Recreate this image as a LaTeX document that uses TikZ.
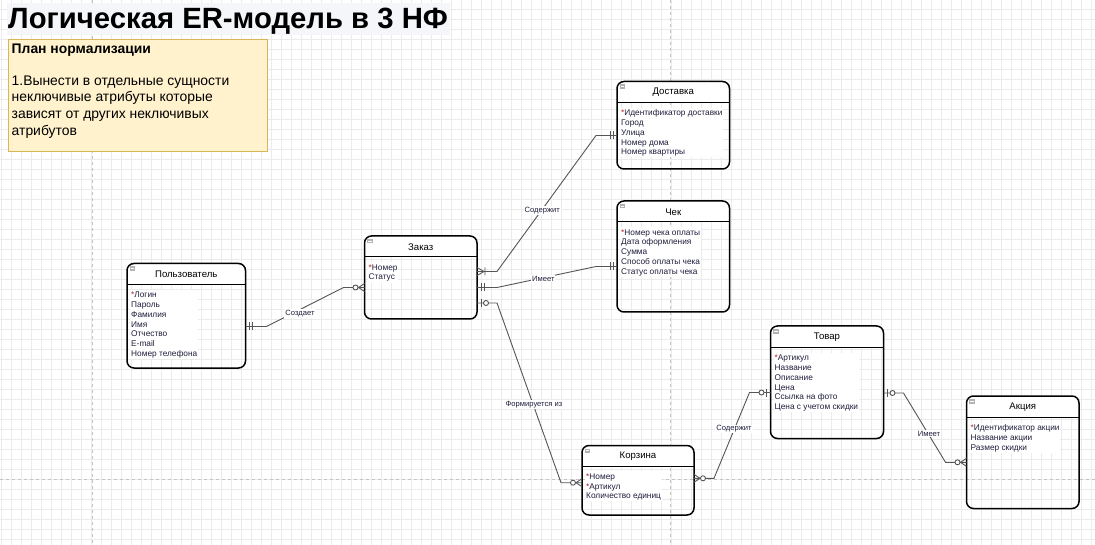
\documentclass[tikz,border=0pt]{standalone}
\usepackage{fontspec}
\setmainfont{Liberation Sans}
\definecolor{notefill}{HTML}{FFF2CC}
\definecolor{noteline}{HTML}{D6B656}
\definecolor{gridc}{HTML}{EBEBEB}
\definecolor{pagebr}{HTML}{C4C4C4}
\definecolor{txt}{HTML}{1E1E3C}
\definecolor{conn}{HTML}{555555}
\definecolor{titlebg}{HTML}{F4F6FA}
\definecolor{pk}{HTML}{B22222}
\newcommand\pkstar{\textcolor{pk}{*}}
\newcommand\ERentity[8]{%
  \fill[white] (#2,#6) [rounded corners=7] -- (#2,#3) -- (#4,#3) [sharp corners] -- (#4,#6) -- cycle;
  \node[entbox, minimum width={#4-#2}, minimum height={#5-#3}] (#1) at ({(#2+#4)/2},{(#3+#5)/2}) {};
  \draw[line width=1pt] (#1.west |- 0,#6) -- (#1.east |- 0,#6);
  \node[enttitle] (#1-t) at ({(#2+#4)/2},{(#3+#6)/2+0.5}) {#7};
  \node[entattr] (#1-a) at ({#2+3.2},{#6+5.2}) {\rule{0pt}{7pt}#8};
  \fill[gray!60] ({#2+2.5},{#3+3}) rectangle ({#2+8},{#3+7.5});
  \draw[white, line width=.6pt] ({#2+3.5},{#3+5.25}) -- ({#2+7},{#3+5.25});
}
\tikzset{
  entbox/.style={draw=black, line width=1.5pt, rounded corners=7pt, inner sep=0pt, outer sep=0pt},
  enttitle/.style={font=\fontsize{9.6}{11}\selectfont, text=black, inner sep=0pt},
  entattr/.style={anchor=north west, align=left, font=\fontsize{8.3}{9.8}\selectfont, text=txt, fill=white, inner sep=0.8pt},
  conn/.style={draw=conn, line width=0.9pt},
  rellabel/.style={font=\fontsize{7.6}{9}\selectfont, text=txt, fill=white, inner sep=1pt},
  mandone/.pic={\draw[conn] (-4,-4) -- (-4,4) (-7,-4) -- (-7,4);},
  onemany/.pic={\draw[conn] (0,-4) -- (-7,0) -- (0,4) (-8,-4) -- (-8,4);},
  zeromany/.pic={\draw[conn] (0,-4) -- (-6,0) -- (0,4); \draw[conn, fill=white] (-9,0) circle (2.5);},
  zeroone/.pic={\draw[conn] (-4,-4) -- (-4,4); \draw[conn, fill=white] (-9,0) circle (2.5);},
}
\begin{document}
\begin{tikzpicture}[x=1pt,y=-1pt]
\useasboundingbox (0,0) rectangle (1095,545);
\fill[white] (0,0) rectangle (1095,545);
% grid
\foreach \gx in {1,11,...,1095} \draw[gridc, line width=0.6pt] (\gx,0) -- (\gx,545);
\foreach \gy in {9,19,...,545} \draw[gridc, line width=0.6pt] (0,\gy) -- (1095,\gy);
% page breaks
\draw[pagebr, dashed, dash pattern=on 3pt off 3pt, line width=0.7pt] (92,0) -- (92,545);
\draw[pagebr, dashed, dash pattern=on 3pt off 3pt, line width=0.7pt] (670,0) -- (670,545);
\draw[pagebr, dashed, dash pattern=on 3pt off 3pt, line width=0.7pt] (0,479) -- (1095,479);
% title
\fill[titlebg] (7,3) rectangle (450,35);
\node[anchor=base west, inner sep=0pt, font=\fontsize{29.3}{31}\bfseries\selectfont] (title) at (8,29) {Логическая ER-модель в 3 НФ};
% note
\node[draw=noteline, fill=notefill, line width=0.8pt, minimum width=259pt, minimum height=112pt, inner sep=0pt, anchor=north west] (note) at (7.5,39.5) {};
\node[anchor=base west, inner sep=0pt, font=\fontsize{13.9}{16}\bfseries\selectfont] (noteh) at (11.5,54) {План нормализации};
\node[anchor=north west, inner sep=0pt, align=left, font=\fontsize{13.9}{16.7}\selectfont] (noteb) at (11.5,74) {\rule{0pt}{11pt}1.Вынести в отдельные сущности\\неключивые атрибуты которые\\зависят от других неключивых\\атрибутов};
% entities
\ERentity{polz}{127}{263.5}{245.5}{368}{284.5}{Пользователь}{\pkstar Логин\\Пароль\\Фамилия\\Имя\\Отчество\\E-mail\\Номер телефона}
\ERentity{zakaz}{364.5}{236}{477}{319}{257}{Заказ}{\pkstar Номер\\Статус}
\ERentity{dost}{617}{81.5}{729.5}{169}{102.5}{Доставка}{\pkstar Идентификатор доставки\\Город\\Улица\\Номер дома\\Номер квартиры}
\ERentity{chek}{617}{201}{729.5}{312}{222}{Чек}{\pkstar Номер чека оплаты\\Дата оформления\\Сумма\\Способ оплаты чека\\Статус оплаты чека}
\ERentity{tovar}{770.5}{326}{883.5}{438.5}{347.5}{Товар}{\pkstar Артикул\\Название\\Описание\\Цена\\Ссылка на фото\\Цена с учетом скидки}
\ERentity{korz}{582}{445.5}{694}{515}{466}{Корзина}{\pkstar Номер\\\pkstar Артикул\\Количество единиц}
\ERentity{akc}{966.5}{396}{1079}{508.5}{417.5}{Акция}{\pkstar Идентификатор акции\\Название акции\\Размер скидки}
% connectors
\draw[conn] (polz.east |- 0,326.5) -- ++(21,0) -- ([xshift=-21pt]zakaz.west |- 0,287.5) -- (zakaz.west |- 0,287.5);
\draw[conn] (zakaz.east |- 0,271.5) -- ++(20,0) -- ([xshift=-21pt]dost.west |- 0,135.5) -- (dost.west |- 0,135.5);
\draw[conn] (zakaz.east |- 0,287.5) -- ++(20,0) -- ([xshift=-21pt]chek.west |- 0,266.5) -- (chek.west |- 0,266.5);
\draw[conn] (zakaz.east |- 0,303) -- ++(20,0) -- ([xshift=-21pt]korz.west |- 0,482.7) -- (korz.west |- 0,482.7);
\draw[conn] (korz.east |- 0,478.3) -- ++(20,0) -- ([xshift=-21pt]tovar.west |- 0,392.5) -- (tovar.west |- 0,392.5);
\draw[conn] (tovar.east |- 0,393) -- ++(20,0) -- ([xshift=-21pt]akc.west |- 0,462.3) -- (akc.west |- 0,462.3);
% labels
\node[rellabel] (l1) at (300,313.3) {Создает};
\node[rellabel] (l2) at (542.3,210.5) {Содержит};
\node[rellabel] (l3) at (543.3,278.5) {Имеет};
\node[rellabel] (l4) at (534,404.5) {Формируется из};
\node[rellabel] (l5) at (734,429) {Содержит};
\node[rellabel] (l6) at (929,433.5) {Имеет};
% markers
\pic[xscale=-1] at (polz.east |- 0,326.5) {mandone};
\pic at (zakaz.west |- 0,287.5) {zeromany};
\pic[xscale=-1] at (zakaz.east |- 0,271.5) {onemany};
\pic at (dost.west |- 0,135.5) {mandone};
\pic[xscale=-1] at (zakaz.east |- 0,287.5) {mandone};
\pic at (chek.west |- 0,266.5) {mandone};
\pic[xscale=-1] at (zakaz.east |- 0,303) {zeroone};
\pic at (korz.west |- 0,482.7) {zeromany};
\pic[xscale=-1] at (korz.east |- 0,478.3) {zeromany};
\pic at (tovar.west |- 0,392.5) {zeroone};
\pic[xscale=-1] at (tovar.east |- 0,393) {zeroone};
\pic at (akc.west |- 0,462.3) {zeromany};
\end{tikzpicture}
\end{document}
